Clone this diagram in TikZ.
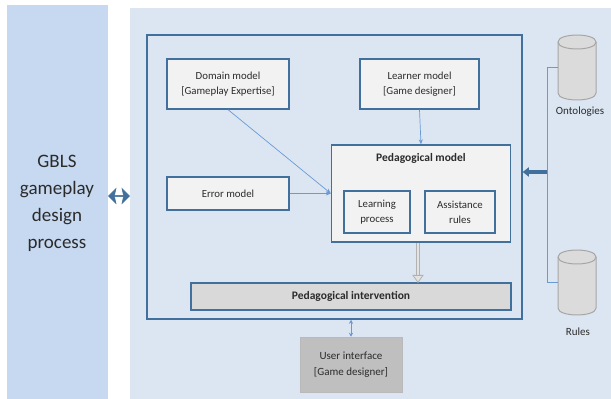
\documentclass[tikz,border=0pt]{standalone}
\usepackage{fontspec}
\setmainfont{Carlito}
\usetikzlibrary{shapes.arrows,arrows.meta}
\definecolor{panelL}{HTML}{C6D9F1}
\definecolor{panelR}{HTML}{DCE6F2}
\definecolor{frame}{HTML}{41709C}
\definecolor{boxfill}{HTML}{F2F2F2}
\definecolor{thin}{HTML}{6A9AD4}
\definecolor{txt}{HTML}{2B2B2B}
\definecolor{bigarrow}{HTML}{41709C}
\tikzset{
  model/.style={draw=frame, line width=1.3pt, fill=boxfill, align=center, text=txt,
    font=\fontsize{10.8}{15}\selectfont, inner sep=0pt},
  conn/.style={draw=thin, line width=0.7pt, -{Stealth[length=5pt,width=4pt]}},
  dbspace/.style={minimum width=38pt, minimum height=65pt, inner sep=0pt},
  dbshape/.style={draw=gray!70, line width=1pt, fill=gray!28},
  lbl/.style={text=txt, font=\fontsize{11}{13}\selectfont, inner sep=0pt}
}
\newcommand\mycyl[2]{% center x, center y
  \filldraw[dbshape] (#1-19,#2-25.5) -- (#1-19,#2+25.5)
    .. controls (#1-19,#2+34.8) and (#1+19,#2+34.8) .. (#1+19,#2+25.5)
    -- (#1+19,#2-25.5)
    .. controls (#1+19,#2-34.8) and (#1-19,#2-34.8) .. (#1-19,#2-25.5) -- cycle;
  \draw[dbshape, fill=none] (#1-19,#2-25.5)
    .. controls (#1-19,#2-16.2) and (#1+19,#2-16.2) .. (#1+19,#2-25.5);
}
\begin{document}
\begin{tikzpicture}[x=1pt,y=-1pt]
\useasboundingbox (0,0) rectangle (611,399);
\fill[white] (0,0) rectangle (611,399);
% panels
\fill[panelL] (7,5) rectangle (108,399);
\fill[panelR] (130,8) rectangle (611,399);
\node[text=txt, align=center, font=\fontsize{19}{27}\selectfont, inner sep=0pt] (gbls) at (57,203)
  {GBLS\\gameplay\\design\\process};
% left double arrow
\node[double arrow, fill=bigarrow, draw=frame, line width=0.5pt, minimum width=15pt, minimum height=21pt,
  double arrow head extend=2.5pt, double arrow head indent=1.5pt, inner sep=0pt] (lr) at (119,196) {};
% outer frame
\node[draw=frame, line width=1.5pt, minimum width=375pt, minimum height=284pt, inner sep=0pt] (outer) at (334.5,177) {};
% boxes
\node[model, minimum width=122pt, minimum height=50pt] (domain) at (228,84) {Domain model\\{}[Gameplay Expertise]};
\node[model, minimum width=119pt, minimum height=50pt] (learner) at (419.5,84) {Learner model\\{}[Game designer]};
\node[model, minimum width=122pt, minimum height=33pt] (error) at (228,193.5) {Error model};
\node[model, minimum width=179pt, minimum height=97pt] (ped) at (421,193.5) {};
\node[text=txt, font=\fontsize{11.5}{13}\selectfont\bfseries, inner sep=0pt] (pedt) at (421,158) {Pedagogical model};
\node[model, minimum width=66pt, minimum height=42pt] (learn) at (377,212) {Learning\\process};
\node[model, minimum width=70pt, minimum height=42pt] (assist) at (460,212) {Assistance\\rules};
\node[model, fill=gray!30, minimum width=320pt, minimum height=27pt, font=\fontsize{11.5}{13}\selectfont\bfseries] (interv) at (351,296.5) {Pedagogical intervention};
\node[fill=gray!50, draw=gray!55, line width=0.5pt, text=txt, align=center, font=\fontsize{11}{16}\selectfont,
  minimum width=102pt, minimum height=55pt, inner sep=0pt] (ui) at (351,364.5) {User interface\\{}[Game designer]};
% databases
\mycyl{577}{67.5}
\node[dbspace] (onto) at (577,67.5) {};
\node[lbl] (ontol) at (580,112) {Ontologies};
\mycyl{577}{282.5}
\node[dbspace] (rules) at (577,282.5) {};
\node[lbl] (rulesl) at (578,332) {Rules};
% connectors
\draw[conn] (domain.south) -- (ped.west);
\draw[conn] (error.east) -- (ped.west);
\draw[conn] (learner.south) -- (ped.north);
\coordinate (gx) at (418,0);
\draw[draw=gray!60, line width=4.5pt] (ped.south -| gx) -- ([yshift=7pt]interv.north -| gx);
\draw[draw=gray!22, line width=2pt] (ped.south -| gx) -- ([yshift=7pt]interv.north -| gx);
\filldraw[draw=gray!60, fill=gray!22, line width=0.8pt] ([xshift=-5pt,yshift=7pt]interv.north -| gx) -- ([xshift=5pt,yshift=7pt]interv.north -| gx) -- (interv.north -| gx) -- cycle;
\draw[draw=thin, line width=0.7pt, {Stealth[length=4pt,width=4pt]}-{Stealth[length=4pt,width=4pt]}]
  (outer.south -| ui.north) -- (ui.north);
\coordinate (bx) at (547,0);
\draw[draw=thin, line width=1pt] (onto.west) -| (bx |- rules.west) -- (rules.west);
\coordinate (ay) at (0,172);
\draw[draw=frame, line width=4pt, -{Triangle[length=6pt,width=9pt]}] (bx |- ay) -- (outer.east |- ay);
\end{tikzpicture}
\end{document}
